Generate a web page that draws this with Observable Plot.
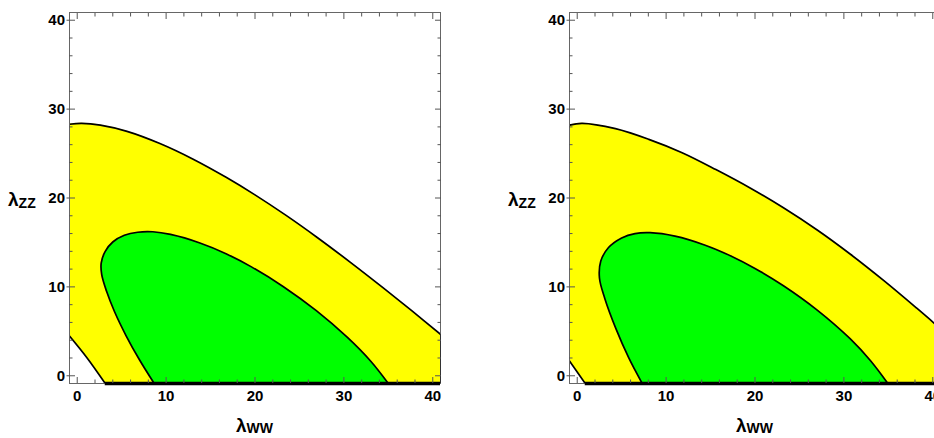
<!DOCTYPE html>
<html><head><meta charset="utf-8">
<script src="https://cdn.jsdelivr.net/npm/d3@7"></script>
<script src="https://cdn.jsdelivr.net/npm/@observablehq/plot@0.6"></script>
<style>
html,body{margin:0;padding:0;background:#fff;overflow:hidden;width:934px;height:438px}
#wrap{display:flex;width:934px;height:438px;overflow:hidden}
#wrap svg{flex:none;display:block}
</style></head><body><div id="wrap"></div>
<script>
// axis ranges and ticks
const xDomain = [-0.87, 40.87];
const yDomain = [-0.87, 40.87];
const majorTicks = [0, 10, 20, 30, 40];
const minorTicks = [2, 4, 6, 8, 12, 14, 16, 18, 22, 24, 26, 28, 32, 34, 36, 38];

// left panel boundaries [λWW, λZZ]
const outerLeft = [[-0.87, 28.3], [0.5, 28.4], [2.6, 28.2], [5.6, 27.5], [9.3, 26.13], [13.1, 24.34], [16.8, 22.3], [20.0, 20.35], [23.5, 18.04], [27.0, 15.56], [30.7, 12.79], [34.5, 9.83], [37.7, 7.27], [40.87, 4.67]];
const lowerLeft = [[-0.87, 4.47], [1.09, 2.03], [3.15, -0.87]];
const innerLeft = [[8.66, -0.87], [7.0, 1.8], [5.5, 4.5], [4.2, 7.2], [3.3, 9.5], [2.75, 11.4], [2.7, 12.7], [3.15, 14.0], [4.0, 15.05], [5.3, 15.8], [6.8, 16.15], [8.5, 16.2], [10.5, 15.9], [13.8, 14.94], [16.8, 13.71], [19.6, 12.25], [23.2, 10.02], [26.9, 7.32], [30.4, 4.31], [33.0, 1.66], [35.0, -0.87]];

// right panel boundaries [λWW, λZZ]
const outerRight = [[-0.87, 28.2], [0.56, 28.4], [4.3, 27.8], [8.05, 26.6], [11.8, 25.1], [15.6, 23.2], [19.5, 21.1], [23.2, 18.9], [27.0, 16.4], [30.7, 13.7], [34.5, 10.7], [38.2, 7.6], [40.87, 5.3]];
const lowerRight = [[-0.87, 1.66], [0.9, -0.87]];
const innerRight = [[7.31, -0.87], [5.8, 2.0], [4.35, 5.3], [3.1, 8.7], [2.5, 11.0], [2.65, 12.9], [3.5, 14.4], [5.0, 15.5], [6.5, 16.0], [8.2, 16.1], [11.0, 15.71], [14.4, 14.69], [17.4, 13.43], [20.0, 12.08], [23.2, 10.13], [27.0, 7.39], [30.7, 4.17], [33.0, 1.69], [34.95, -0.87]];

const W = 500, H = 438, ML = 69, MR = 60, MT = 12, MB = 55;
const tickColor = "#555";
const FONT = "'Liberation Sans', Arial, sans-serif";

function panel(outer, lower, inner) {
  const yMin = yDomain[0], xMax = xDomain[1];
  const lowerEnd = lower[lower.length - 1];
  const outerEnd = outer[outer.length - 1];
  const X = d => d[0], Y = d => d[1];
  const chart = Plot.plot({
    width: W, height: H,
    marginLeft: ML, marginRight: MR, marginTop: MT, marginBottom: MB,
    x: {domain: xDomain},
    y: {domain: yDomain},
    style: {fontFamily: FONT, fontSize: "15px", fontWeight: "bold", color: "black", background: "white"},
    marks: [
      Plot.areaY(outer, {x: X, y1: () => yMin, y2: Y, fill: "#ffff00", curve: "catmull-rom", clip: true}),
      Plot.areaY(lower, {x: X, y1: () => yMin, y2: Y, fill: "white", curve: "catmull-rom", clip: true}),
      Plot.line(inner, {x: X, y: Y, fill: "#00ff00", stroke: "black", strokeWidth: 1.7, curve: "catmull-rom", clip: true}),
      Plot.line(outer, {x: X, y: Y, stroke: "black", strokeWidth: 1.7, curve: "catmull-rom", clip: true}),
      Plot.line(lower, {x: X, y: Y, stroke: "black", strokeWidth: 1.7, curve: "catmull-rom", clip: true}),
      Plot.frame({stroke: "#666", strokeWidth: 1}),
      Plot.ruleX([{x: xMax, y1: yMin, y2: outerEnd[1]}], {x: "x", y1: "y1", y2: "y2", stroke: "#333", strokeWidth: 1}),
      Plot.ruleY([{y: yMin, x1: lowerEnd[0], x2: xMax}], {y: "y", x1: "x1", x2: "x2", stroke: "black", strokeWidth: 3.5}),
      // inward ticks on all four sides
      Plot.axisX(majorTicks, {anchor: "bottom", tickSize: -6, fill: "none", stroke: tickColor, label: null}),
      Plot.axisX(minorTicks, {anchor: "bottom", tickSize: -3.5, fill: "none", stroke: tickColor, label: null}),
      Plot.axisX(majorTicks, {anchor: "top", tickSize: -6, fill: "none", stroke: tickColor, label: null}),
      Plot.axisX(minorTicks, {anchor: "top", tickSize: -3.5, fill: "none", stroke: tickColor, label: null}),
      Plot.axisY(majorTicks, {anchor: "left", tickSize: -6, fill: "none", stroke: tickColor, label: null}),
      Plot.axisY(minorTicks, {anchor: "left", tickSize: -3.5, fill: "none", stroke: tickColor, label: null}),
      Plot.axisY(majorTicks, {anchor: "right", tickSize: -6, fill: "none", stroke: tickColor, label: null}),
      Plot.axisY(minorTicks, {anchor: "right", tickSize: -3.5, fill: "none", stroke: tickColor, label: null}),
      // tick labels
      Plot.axisX(majorTicks, {anchor: "bottom", tickSize: 0, tickPadding: 7, label: null, fill: "black"}),
      Plot.axisY(majorTicks, {anchor: "left", tickSize: 2.5, tickPadding: 2, label: null, fill: "black", stroke: tickColor})
    ]
  });
  const svg = d3.select(chart);
  const xl = svg.append("text")
    .attr("x", (ML + W - MR) / 2).attr("y", 432)
    .attr("text-anchor", "middle")
    .attr("font-family", FONT)
    .attr("font-weight", "bold").attr("fill", "black");
  xl.append("tspan").attr("font-size", 19).text("λ");
  xl.append("tspan").attr("font-size", 14).attr("dy", 1).text("WW");
  const yl = svg.append("text")
    .attr("x", 8).attr("y", 206)
    .attr("text-anchor", "start")
    .attr("font-family", FONT)
    .attr("font-weight", "bold").attr("fill", "black");
  yl.append("tspan").attr("font-size", 19).text("λ");
  yl.append("tspan").attr("font-size", 14).attr("dy", 2).text("ZZ");
  return chart;
}

const wrap = document.getElementById("wrap");
wrap.appendChild(panel(outerLeft, lowerLeft, innerLeft));
wrap.appendChild(panel(outerRight, lowerRight, innerRight));
</script>
</body></html>
